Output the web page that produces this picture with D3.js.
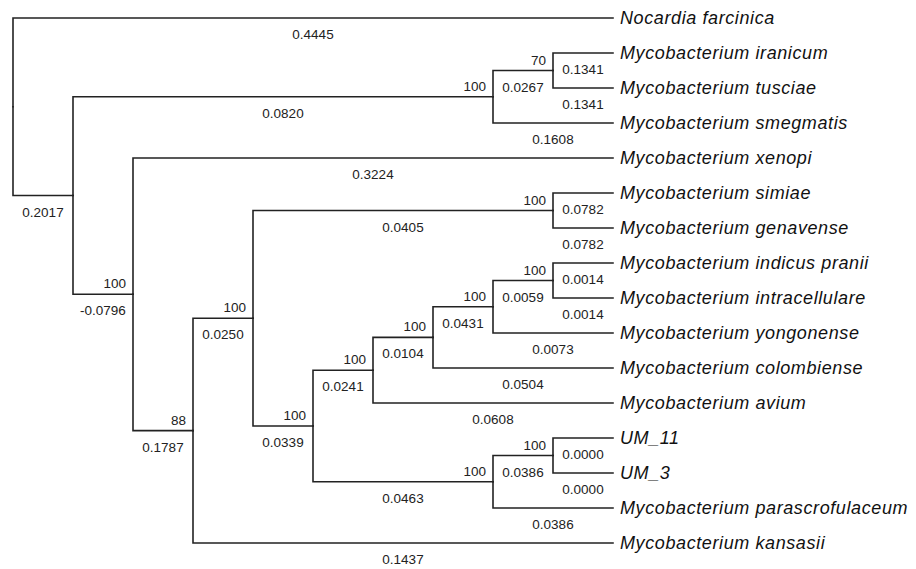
<!DOCTYPE html>
<html>
<head>
<meta charset="utf-8">
<script src="https://cdn.jsdelivr.net/npm/d3@7"></script>
<style>
  html, body { margin: 0; padding: 0; background: #fff; }
  svg { display: block; }
</style>
</head>
<body>
<svg id="chart" width="916" height="569"></svg>
<script>
// Tree nodes (id), their parents, branch lengths and bootstrap values
const nodeIds = ["root", "Nocardia farcinica", "A", "B", "D",
  "Mycobacterium iranicum", "Mycobacterium tusciae", "Mycobacterium smegmatis",
  "C", "Mycobacterium xenopi", "E", "F", "G",
  "Mycobacterium simiae", "Mycobacterium genavense",
  "H", "I", "K", "L", "M",
  "Mycobacterium indicus pranii", "Mycobacterium intracellulare",
  "Mycobacterium yongonense", "Mycobacterium colombiense", "Mycobacterium avium",
  "J", "N", "UM_11", "UM_3", "Mycobacterium parascrofulaceum", "Mycobacterium kansasii"];
const parentIds = ["", "root", "root", "A", "B",
  "D", "D", "B",
  "A", "C", "C", "E", "F",
  "G", "G",
  "F", "H", "I", "K", "L",
  "M", "M",
  "L", "K", "I",
  "H", "J", "N", "N", "J", "E"];
const branchLengths = [null, "0.4445", "0.2017", "0.0820", "0.0267",
  "0.1341", "0.1341", "0.1608",
  "-0.0796", "0.3224", "0.1787", "0.0250", "0.0405",
  "0.0782", "0.0782",
  "0.0339", "0.0241", "0.0104", "0.0431", "0.0059",
  "0.0014", "0.0014",
  "0.0073", "0.0504", "0.0608",
  "0.0463", "0.0386", "0.0000", "0.0000", "0.0386", "0.1437"];
const bootstraps = [null, null, null, "100", "70",
  null, null, null,
  "100", null, "88", "100", "100",
  null, null,
  "100", "100", "100", "100", "100",
  null, null,
  null, null, null,
  "100", "100", null, null, null, null];

const rows = nodeIds.map((id, i) => ({
  id, parent: parentIds[i] || null, len: branchLengths[i], boot: bootstraps[i]
}));

const treeRoot = d3.stratify().id(d => d.id).parentId(d => d.parent)(rows);

const leafGap = 35;
const nLeaves = treeRoot.leaves().length;
const marginLeft = 13, marginTop = 18 - leafGap / 2;
const cluster = d3.cluster().size([leafGap * nLeaves, 600]).separation(() => 1);
cluster(treeRoot);

const X = d => marginLeft + d.y;
const Y = d => marginTop + d.x;

const svg = d3.select("#chart");
const ink = "#222";

// branches (elbow)
svg.append("g")
  .attr("fill", "none")
  .attr("stroke", ink)
  .attr("stroke-width", 1.6)
  .attr("stroke-linecap", "square")
  .attr("stroke-linejoin", "miter")
  .selectAll("path")
  .data(treeRoot.links())
  .join("path")
  .attr("d", l => `M${X(l.source)},${Y(l.source)}V${Y(l.target)}H${X(l.target)}`);

const numFont = "Liberation Sans, Arial, sans-serif";

// branch length labels
svg.append("g")
  .attr("font-family", numFont)
  .attr("font-size", 13.5)
  .attr("fill", ink)
  .attr("text-anchor", "middle")
  .selectAll("text")
  .data(treeRoot.descendants().filter(d => d.parent))
  .join("text")
  .attr("x", d => (X(d.parent) + X(d)) / 2)
  .attr("y", d => Y(d) + 21)
  .text(d => d.data.len);

// bootstrap labels
svg.append("g")
  .attr("font-family", numFont)
  .attr("font-size", 13.5)
  .attr("fill", ink)
  .attr("text-anchor", "end")
  .selectAll("text")
  .data(treeRoot.descendants().filter(d => d.data.boot))
  .join("text")
  .attr("x", d => X(d) - 7)
  .attr("y", d => Y(d) - 6)
  .text(d => d.data.boot);

// leaf labels
svg.append("g")
  .attr("font-family", numFont)
  .attr("font-size", 18)
  .attr("font-style", "italic")
  .attr("letter-spacing", "0.6px")
  .attr("fill", "#111")
  .selectAll("text")
  .data(treeRoot.leaves())
  .join("text")
  .attr("x", d => X(d) + 7)
  .attr("y", d => Y(d) + 6.4)
  .text(d => d.data.id);
</script>
</body>
</html>
